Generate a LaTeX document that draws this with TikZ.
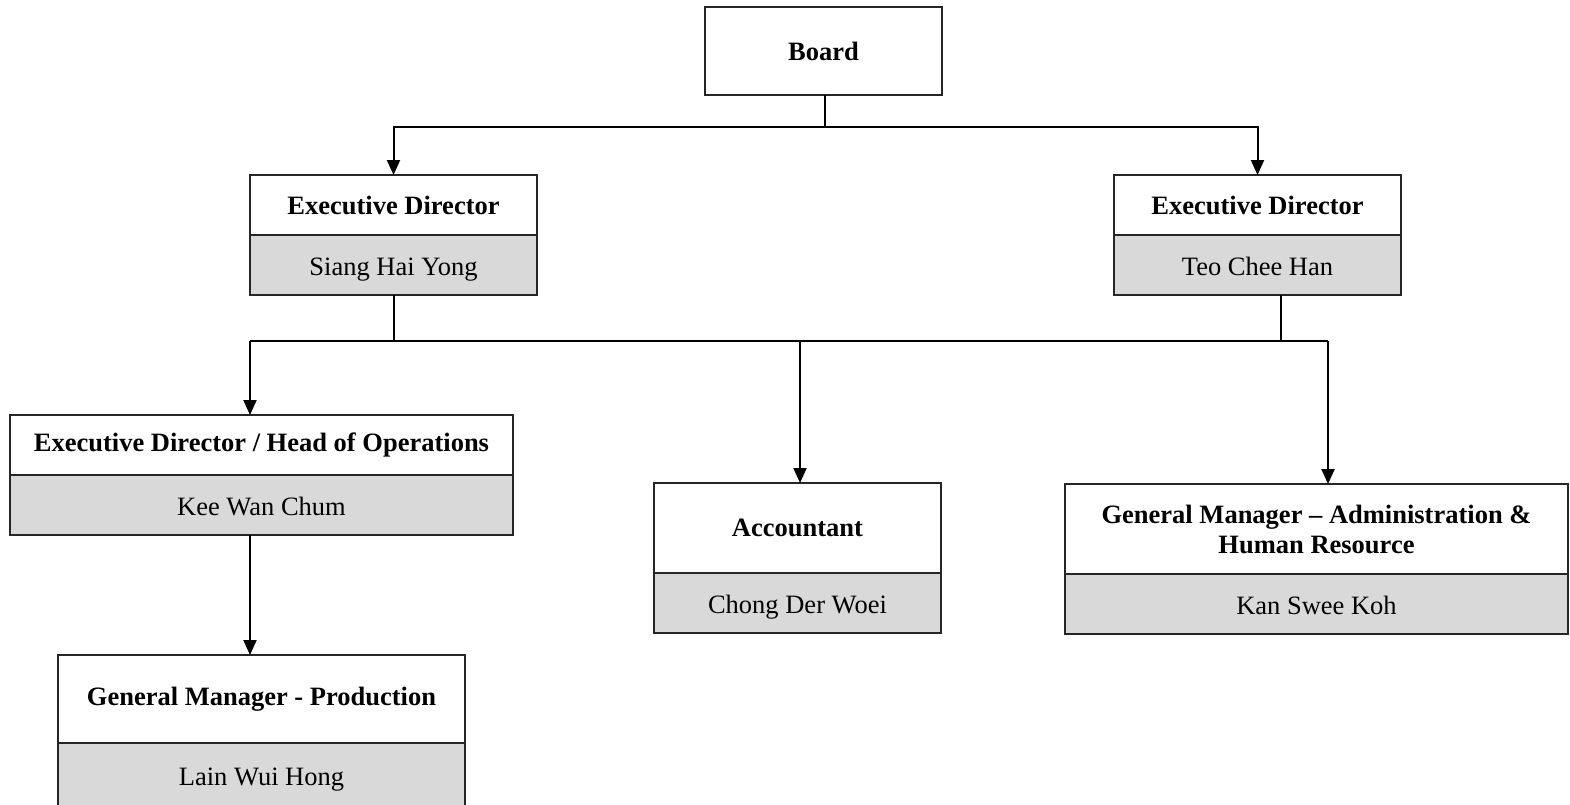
\documentclass[tikz,border=0pt]{standalone}
\usepackage{fontspec}
\setmainfont{Liberation Serif}
\usetikzlibrary{arrows.meta,calc}
\definecolor{cellgray}{HTML}{D9D9D9}
\newcommand\boxfont{\fontsize{26.5}{30}\selectfont}
\tikzset{
  cell/.style={draw=black!85, line width=1.3pt, inner sep=0pt, outer sep=0pt, anchor=north west, align=center},
  titlecell/.style={cell, fill=white, font=\bfseries\boxfont},
  personcell/.style={cell, fill=cellgray, font=\boxfont, text height=22pt, text depth=2pt},
  conn/.style={line width=2pt, black},
  arr/.style={conn, -{Triangle[width=13pt,length=15pt]}}
}
\begin{document}
\begin{tikzpicture}[x=1pt,y=-1pt]
\useasboundingbox (0,0) rectangle (1570,804);
% Board
\node[titlecell, minimum width=237, minimum height=88] (board) at (705,7) {Board};
% Executive Director 1
\node[titlecell, minimum width=287, minimum height=60] (ed1t) at (250,175) {Executive Director};
\node[personcell, minimum width=287, minimum height=60] (ed1b) at (250,235) {Siang Hai Yong};
% Executive Director 2
\node[titlecell, minimum width=287, minimum height=60] (ed2t) at (1114,175) {Executive Director};
\node[personcell, minimum width=287, minimum height=60] (ed2b) at (1114,235) {Teo Chee Han};
% ED / Head of Operations
\node[titlecell, minimum width=503, minimum height=60] (edhot) at (10,415) {Executive Director / Head of Operations};
\node[personcell, minimum width=503, minimum height=60] (edhob) at (10,475) {Kee Wan Chum};
% Accountant
\node[titlecell, minimum width=287, minimum height=90] (acct) at (654,483) {Accountant};
\node[personcell, minimum width=287, minimum height=60] (accb) at (654,573) {Chong Der Woei};
% GM Admin & HR
\node[titlecell, minimum width=503, minimum height=90] (gmat) at (1065,484) {General Manager -- Administration \&\\Human Resource};
\node[personcell, minimum width=503, minimum height=60] (gmab) at (1065,574) {Kan Swee Koh};
% GM Production
\node[titlecell, minimum width=407, minimum height=88] (gmpt) at (58,655) {General Manager - Production};
\node[personcell, minimum width=407, minimum height=64] (gmpb) at (58,743) {Lain Wui Hong};
% connectors from Board
\coordinate (topbus) at (825,127);
\draw[conn] (board.south -| topbus) -- (topbus);
\draw[arr] (topbus) -| (ed1t.north);
\draw[arr] (topbus) -| (ed2t.north);
% connectors from Executive Directors
\coordinate (busL) at (250,341);
\coordinate (busR) at (1328,341);
\coordinate (ed2out) at ($(ed2b.south)+(23.5,0)$);
\coordinate (acctin) at ($(acct.north)+(2.5,0)$);
\draw[conn] (ed1b.south) -- (ed1b.south |- busL);
\draw[conn] (ed2out) -- (ed2out |- busR);
\draw[conn] (busL) -- (busR);
\draw[arr] (busL) -- (busL |- edhot.north);
\draw[arr] (acctin |- busL) -- (acctin);
\draw[arr] (busR) -- (busR |- gmat.north);
% Head of Operations to GM Production
\coordinate (edhoout) at (edhob.south -| busL);
\draw[arr] (edhoout) -- (edhoout |- gmpt.north);
\end{tikzpicture}
\end{document}
